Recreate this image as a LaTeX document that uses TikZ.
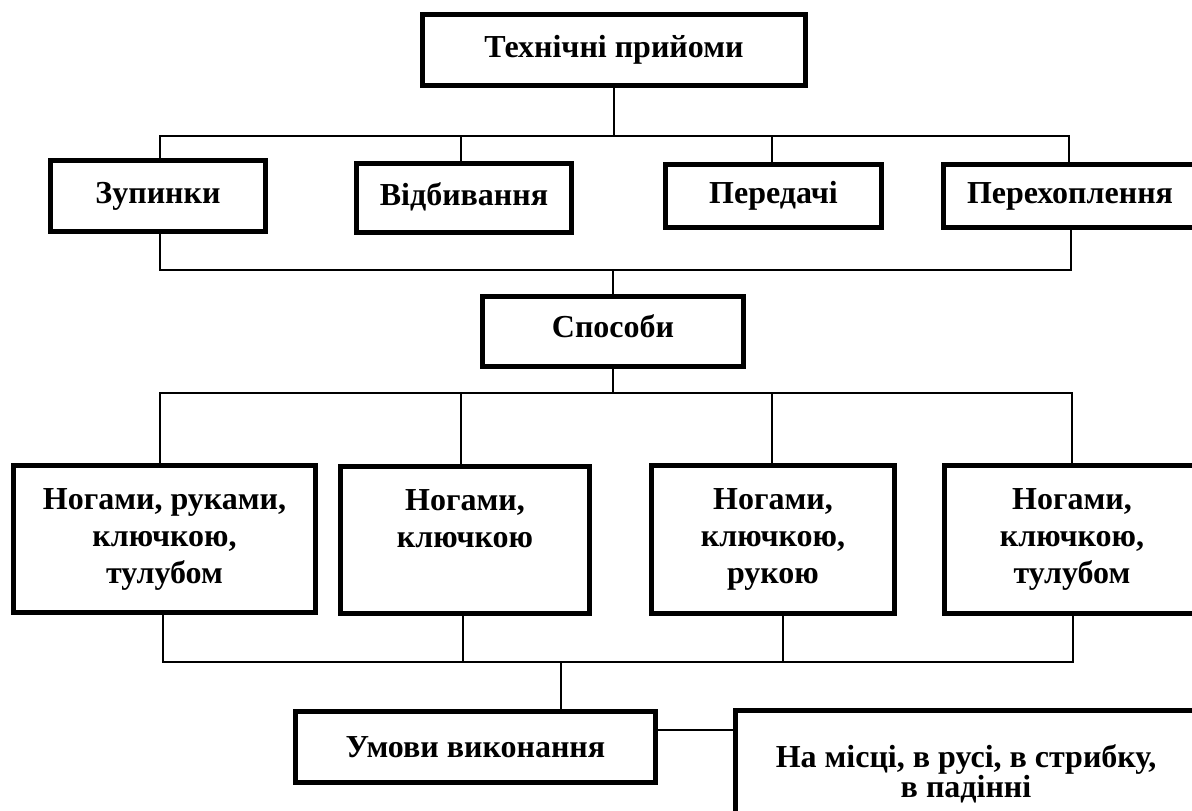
\documentclass[tikz,border=0pt]{standalone}
\usepackage{fontspec}
\setmainfont{Liberation Serif}
\begin{document}
\begin{tikzpicture}[x=1pt,y=-1pt,
  box/.style={draw, line width=5pt, inner sep=0pt, align=center,
    font=\bfseries\fontsize{32}{37}\selectfont},
  conn/.style={line width=1.3pt}]
\useasboundingbox (0,0) rectangle (1192,811);
\clip (0,0) rectangle (1192,811);
% nodes
\node[box, minimum width=383pt, minimum height=71pt] (T) at (614,50) {Технічні прийоми};
\node[box, minimum width=215pt, minimum height=71pt] (Z) at (158,196) {Зупинки};
\node[box, minimum width=215pt, minimum height=69pt, text depth=8pt] (V) at (464,198) {Відбивання};
\node[box, minimum width=216pt, minimum height=63pt] (P) at (773.5,196) {Передачі};
\node[box, minimum width=253pt, minimum height=63pt] (X) at (1070,196) {Перехоплення};
\node[box, minimum width=261pt, minimum height=70pt, text depth=11pt] (S) at (613,331.5) {Способи};
\node[box, minimum width=302pt, minimum height=147pt] (B1) at (164.5,539) {Ногами, руками,\\ключкою,\\тулубом};
\node[box, minimum width=249pt, minimum height=147pt] (B2) at (465,540) {Ногами,\\ключкою\\\phantom{у}};
\node[box, minimum width=243pt, minimum height=148pt] (B3) at (773,539.5) {Ногами,\\ключкою,\\рукою};
\node[box, minimum width=255pt, minimum height=148pt] (B4) at (1072,539.5) {Ногами,\\ключкою,\\тулубом};
\node[box, minimum width=360pt, minimum height=71pt] (U) at (475.5,747) {Умови виконання};
\node[box, minimum width=461pt, minimum height=127pt,
  font=\bfseries\fontsize{32}{25}\selectfont] (R) at (966,774) {На місці, в русі, в стрибку,\\в падінні};
% bus levels
\coordinate (bus1) at (0,136);
\coordinate (bus2) at (0,270);
\coordinate (bus3) at (0,393);
\coordinate (bus4) at (0,662);
% connector ends on the boxes
\coordinate (zN) at ([xshift=2pt]Z.north);
\coordinate (vN) at ([xshift=-3pt]V.north);
\coordinate (pN) at ([xshift=-1.5pt]P.north);
\coordinate (xN) at ([xshift=-1pt]X.north);
\coordinate (zS) at ([xshift=2pt]Z.south);
\coordinate (xS) at ([xshift=1pt]X.south);
\coordinate (b1N) at ([xshift=-4.5pt]B1.north);
\coordinate (b2N) at ([xshift=-4pt]B2.north);
\coordinate (b3N) at ([xshift=-1pt]B3.north);
\coordinate (b4N) at (B4.north);
\coordinate (b1S) at ([xshift=-1.5pt]B1.south);
\coordinate (b2S) at ([xshift=-2pt]B2.south);
\coordinate (b3S) at ([xshift=10pt]B3.south);
\coordinate (b4S) at ([xshift=1pt]B4.south);
\coordinate (uN) at ([xshift=85.5pt]U.north);
\coordinate (uE) at ([yshift=17pt]U.east);
% connectors
\draw[conn] (T.south) -- (T.south |- bus1);
\draw[conn] (zN) -- (zN |- bus1) -- (xN |- bus1) -- (xN);
\draw[conn] (vN) -- (vN |- bus1);
\draw[conn] (pN) -- (pN |- bus1);
\draw[conn] (zS) -- (zS |- bus2) -- (xS |- bus2) -- (xS);
\draw[conn] (S.north) -- (S.north |- bus2);
\draw[conn] (S.south) -- (S.south |- bus3);
\draw[conn] (b1N) -- (b1N |- bus3) -- (b4N |- bus3) -- (b4N);
\draw[conn] (b2N) -- (b2N |- bus3);
\draw[conn] (b3N) -- (b3N |- bus3);
\draw[conn] (b1S) -- (b1S |- bus4) -- (b4S |- bus4) -- (b4S);
\draw[conn] (b2S) -- (b2S |- bus4);
\draw[conn] (b3S) -- (b3S |- bus4);
\draw[conn] (uN) -- (uN |- bus4);
\draw[conn] (uE) -- (uE -| R.west);
\end{tikzpicture}
\end{document}
